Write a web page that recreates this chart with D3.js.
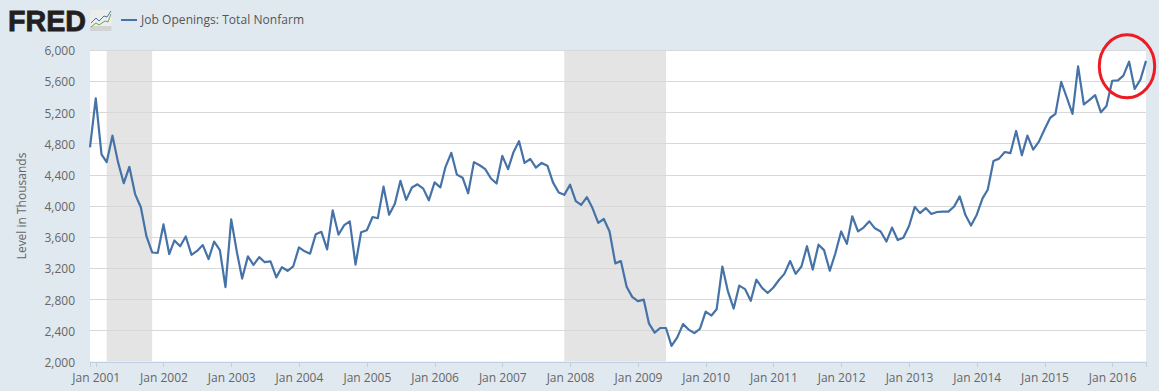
<!DOCTYPE html>
<html><head><meta charset="utf-8">
<script src="https://cdn.jsdelivr.net/npm/d3@7"></script>
<style>
html,body{margin:0;padding:0;background:#e1e9f0}
svg{display:block}
text{font-family:"Open Sans",sans-serif}
</style></head><body>
<svg id="c" width="1159" height="391"></svg>
<script>
const seriesName = "Job Openings: Total Nonfarm";
const yAxisTitle = "Level in Thousands";
const startMonth = [2000, 11];
const values = [
4750,5380,4660,4560,4900,4560,4290,4500,4150,3980,3610,3400,3395,
3760,3380,3555,3480,3605,3370,3420,3495,3315,3540,3430,2955,
3825,3400,3065,3350,3240,3340,3275,3285,3080,3210,3165,3220,
3465,3415,3385,3635,3665,3440,3940,3630,3750,3800,3245,3660,
3685,3855,3840,4245,3885,4025,4320,4075,4235,4275,4220,4070,
4300,4235,4500,4680,4400,4360,4160,4560,4520,4470,4350,4285,
4640,4470,4680,4830,4550,4600,4490,4550,4515,4300,4170,4140,
4270,4060,4010,4110,3970,3780,3830,3670,3260,3290,2960,2830,
2775,2795,2490,2370,2430,2430,2200,2310,2480,2410,2365,2420,
2640,2590,2670,3220,2900,2680,2975,2930,2780,3050,2945,2880,
2950,3050,3125,3290,3125,3220,3480,3180,3500,3430,3165,3390,
3670,3510,3865,3670,3720,3800,3710,3670,3540,3720,3560,3590,
3740,3985,3905,3970,3895,3920,3925,3925,3990,4120,3880,3745,
3885,4095,4205,4575,4605,4690,4675,4960,4650,4900,4720,4820,
4980,5130,5180,5590,5390,5180,5790,5300,5360,5420,5200,5280,
5605,5610,5670,5850,5500,5620,5860];
const recessions = [[new Date(2001,2,1),new Date(2001,10,1)],[new Date(2007,11,1),new Date(2009,5,1)]];
const yTicks = [2000,2400,2800,3200,3600,4000,4400,4800,5200,5600,6000];
const xTickYears = d3.range(2001,2017);

const dates = values.map((_,i)=>new Date(startMonth[0],startMonth[1]+i,1));
const L=90,R=1146,T=50,B=361.5;
const x = d3.scaleTime().domain(d3.extent(dates)).range([L,R]);
const y = d3.scaleLinear().domain([2000,6000]).range([B,T]);
const svg = d3.select("#c");

svg.append("rect").attr("x",L).attr("y",T).attr("width",R-L).attr("height",B-T).attr("fill","#fff");
svg.append("g").selectAll("rect").data(recessions).join("rect")
  .attr("x",d=>x(d[0])).attr("width",d=>x(d[1])-x(d[0]))
  .attr("y",T).attr("height",B-T).attr("fill","#e4e4e4");

const gy = svg.append("g").attr("transform",`translate(${L},0)`)
  .call(d3.axisLeft(y).tickValues(yTicks).tickSize(L-R).tickPadding(15).tickFormat(d3.format(",")));
gy.select(".domain").remove();
gy.selectAll("line").attr("stroke","#d8d8d8").attr("stroke-width",1).attr("shape-rendering","crispEdges");
gy.selectAll("text").attr("fill","#666").attr("dy","0.4em").style("font-size","12px");

const gx = svg.append("g").attr("transform",`translate(0,${B})`)
  .call(d3.axisBottom(x).tickValues(xTickYears.map(v=>new Date(v,0,1))).tickSize(5).tickPadding(7).tickFormat(d3.timeFormat("Jan %Y")));
gx.select(".domain").attr("stroke","#c0d0e0").attr("shape-rendering","crispEdges");
gx.selectAll("line").attr("stroke","#c0d0e0").attr("shape-rendering","crispEdges");
gx.selectAll("text").attr("fill","#666").style("font-size","12px");

svg.append("path").attr("fill","none").attr("stroke","#4572a7").attr("stroke-width",2.2).attr("stroke-linejoin","round")
  .attr("d",d3.line().x((d,i)=>x(dates[i])).y(d=>y(d))(values));

svg.append("text").attr("transform","translate(26,206) rotate(-90)").attr("text-anchor","middle")
  .attr("fill","#666").style("font-size","12px").text(yAxisTitle);

// header
svg.append("text").attr("x",8).attr("y",31).attr("textLength",78).attr("lengthAdjust","spacingAndGlyphs")
  .attr("fill","#231f20").attr("stroke","#231f20").attr("stroke-width",0.8)
  .style("font-family","'Liberation Sans',sans-serif").style("font-weight","700").style("font-size","29px").text("FRED");
const icon = svg.append("g").attr("transform","translate(90,10)");
icon.append("rect").attr("width",21.5).attr("height",21).attr("rx",2).attr("fill","#eceeee");
icon.append("rect").attr("y",16).attr("width",21.5).attr("height",5).attr("fill","#d2d4d4");
icon.append("path").attr("fill","none").attr("stroke","#7aa15a").attr("stroke-width",1).attr("d","M1 17L6 13L9 15L15 11L18 12L21 4");
icon.append("path").attr("fill","none").attr("stroke","#4572a7").attr("stroke-width",1).attr("d","M1 13L6 8L9 11L14 6L17 7L21 1");
svg.append("line").attr("x1",121).attr("x2",137).attr("y1",20).attr("y2",20).attr("stroke","#4572a7").attr("stroke-width",2);
svg.append("text").attr("x",141).attr("y",24).attr("textLength",163).attr("fill","#555").style("font-size","12px").text(seriesName);

// red annotation circle
svg.append("ellipse").attr("cx",1127).attr("cy",66.3).attr("rx",27.7).attr("ry",31.5)
  .attr("fill","none").attr("stroke","#ed1c24").attr("stroke-width",3);
</script></body></html>
